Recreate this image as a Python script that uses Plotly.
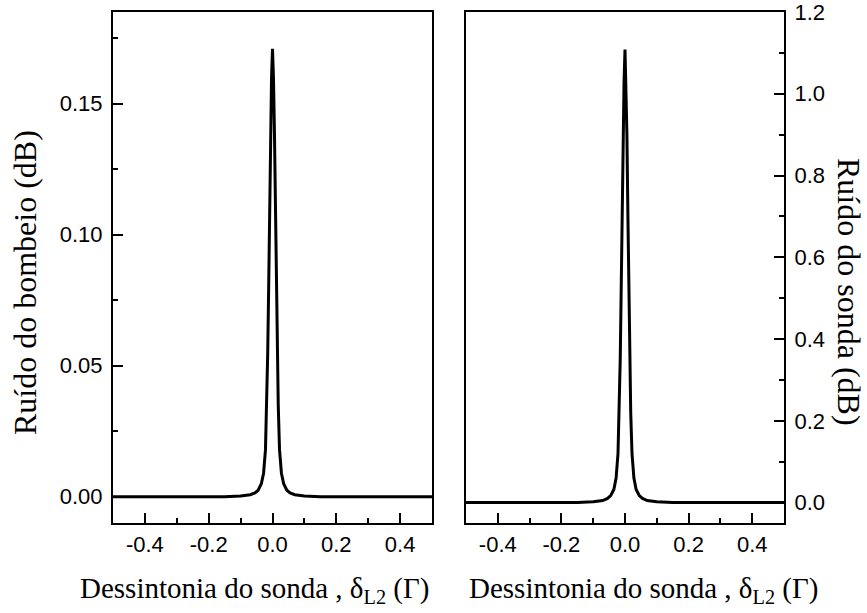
import plotly.graph_objects as go

# Left panel: pump noise (dB) vs probe detuning
x_left = [-0.5, -0.3, -0.15, -0.1, -0.07, -0.055, -0.045, -0.035, -0.028, -0.022, -0.018,
          -0.015, -0.012, -0.009, -0.006, -0.003, 0.0, 0.003, 0.006, 0.009, 0.012, 0.015,
          0.018, 0.022, 0.028, 0.035, 0.045, 0.055, 0.07, 0.1, 0.15, 0.3, 0.5]
y_left = [0.0, 0.0, 0.0, 0.0003, 0.0008, 0.0015, 0.0025, 0.005, 0.009, 0.018, 0.035,
          0.055, 0.08, 0.11, 0.14, 0.16, 0.171, 0.16, 0.14, 0.11, 0.08, 0.055,
          0.035, 0.018, 0.009, 0.005, 0.0025, 0.0015, 0.0008, 0.0003, 0.0, 0.0, 0.0]

# Right panel: probe noise (dB) vs probe detuning
x_right = [-0.5, -0.3, -0.15, -0.1, -0.07, -0.055, -0.045, -0.035, -0.028, -0.022, -0.018,
           -0.015, -0.012, -0.009, -0.006, -0.003, 0.0, 0.003, 0.006, 0.009, 0.012, 0.015,
           0.018, 0.022, 0.028, 0.035, 0.045, 0.055, 0.07, 0.1, 0.15, 0.3, 0.5]
y_right = [0.0, 0.0, 0.0, 0.002, 0.005, 0.01, 0.017, 0.032, 0.06, 0.12, 0.22,
           0.35, 0.52, 0.71, 0.9, 1.03, 1.108, 1.03, 0.9, 0.71, 0.52, 0.35,
           0.22, 0.12, 0.06, 0.032, 0.017, 0.01, 0.005, 0.002, 0.0, 0.0, 0.0]

x_ticks = [-0.4, -0.2, 0.0, 0.2, 0.4]
x_ticklabels = ["-0.4", "-0.2", "0.0", "0.2", "0.4"]
yl_ticks = [0.0, 0.05, 0.10, 0.15]
yl_ticklabels = ["0.00", "0.05", "0.10", "0.15"]
yr_ticks = [0.0, 0.2, 0.4, 0.6, 0.8, 1.0, 1.2]
yr_ticklabels = ["0.0", "0.2", "0.4", "0.6", "0.8", "1.0", "1.2"]

x_title = "Dessintonia do sonda , δ<sub>L2</sub> (Γ)"
yl_title = "Ruído do bombeio (dB)"
yr_title = "Ruído do sonda (dB)"

W, H = 867, 613
tick_font = dict(family="Liberation Sans, Arial", size=22, color="black")
xtitle_font = dict(family="Liberation Serif, Times New Roman", size=29, color="black")
ytitle_font = dict(family="Liberation Serif, Times New Roman", size=32, color="black")

fig = go.Figure()
fig.add_trace(go.Scatter(x=x_left, y=y_left, mode="lines",
                         line=dict(color="black", width=3), xaxis="x", yaxis="y",
                         showlegend=False, hoverinfo="skip"))
fig.add_trace(go.Scatter(x=x_right, y=y_right, mode="lines",
                         line=dict(color="black", width=3), xaxis="x2", yaxis="y2",
                         showlegend=False, hoverinfo="skip"))

common_axis = dict(showline=True, linecolor="black", linewidth=2, mirror=True,
                   ticks="inside", ticklen=10, tickwidth=2, tickcolor="black",
                   showgrid=False, zeroline=False, tickfont=tick_font,
                   ticklabeloverflow="allow", automargin=False)
minor_style = dict(ticks="inside", ticklen=5, tickwidth=2, tickcolor="black")

xl0, xl1 = 113 / W, 432 / W
xr0, xr1 = 466 / W, 784 / W
yb, yt = 1 - 523 / H, 1 - 12 / H

fig.update_layout(
    width=W, height=H, margin=dict(l=0, r=0, t=0, b=0, autoexpand=False),
    paper_bgcolor="white", plot_bgcolor="white",
    xaxis=dict(domain=[xl0, xl1], range=[-0.5, 0.5], anchor="y",
               tickvals=x_ticks, ticktext=x_ticklabels, ticklabelstandoff=1,
               minor=dict(tickvals=[-0.3, -0.1, 0.1, 0.3], **minor_style),
               **common_axis),
    yaxis=dict(domain=[yb, yt], range=[-0.01, 0.185], anchor="x",
               tickvals=yl_ticks, ticktext=yl_ticklabels, ticklabelstandoff=4,
               minor=dict(tickvals=[0.025, 0.075, 0.125, 0.175], **minor_style),
               **common_axis),
    xaxis2=dict(domain=[xr0, xr1], range=[-0.5, 0.5], anchor="y2",
                tickvals=x_ticks, ticktext=x_ticklabels, ticklabelstandoff=1,
                minor=dict(tickvals=[-0.3, -0.1, 0.1, 0.3], **minor_style),
                **common_axis),
    yaxis2=dict(domain=[yb, yt], range=[-0.05, 1.2], anchor="x2", side="right",
                tickvals=yr_ticks, ticktext=yr_ticklabels, ticklabelstandoff=4,
                minor=dict(tickvals=[0.1, 0.3, 0.5, 0.7, 0.9, 1.1], **minor_style),
                **common_axis),
    annotations=[
        dict(text=x_title, x=254.5 / W, y=1 - 590 / H, xref="paper", yref="paper",
             xanchor="center", yanchor="middle", showarrow=False, font=xtitle_font),
        dict(text=x_title, x=643 / W, y=1 - 590 / H, xref="paper", yref="paper",
             xanchor="center", yanchor="middle", showarrow=False, font=xtitle_font),
        dict(text=yl_title, x=25 / W, y=1 - 283 / H, xref="paper", yref="paper",
             xanchor="center", yanchor="middle", textangle=-90, showarrow=False,
             font=ytitle_font),
        dict(text=yr_title, x=849 / W, y=1 - 292 / H, xref="paper", yref="paper",
             xanchor="center", yanchor="middle", textangle=90, showarrow=False,
             font=ytitle_font),
    ],
)

fig.write_html("out.html")
